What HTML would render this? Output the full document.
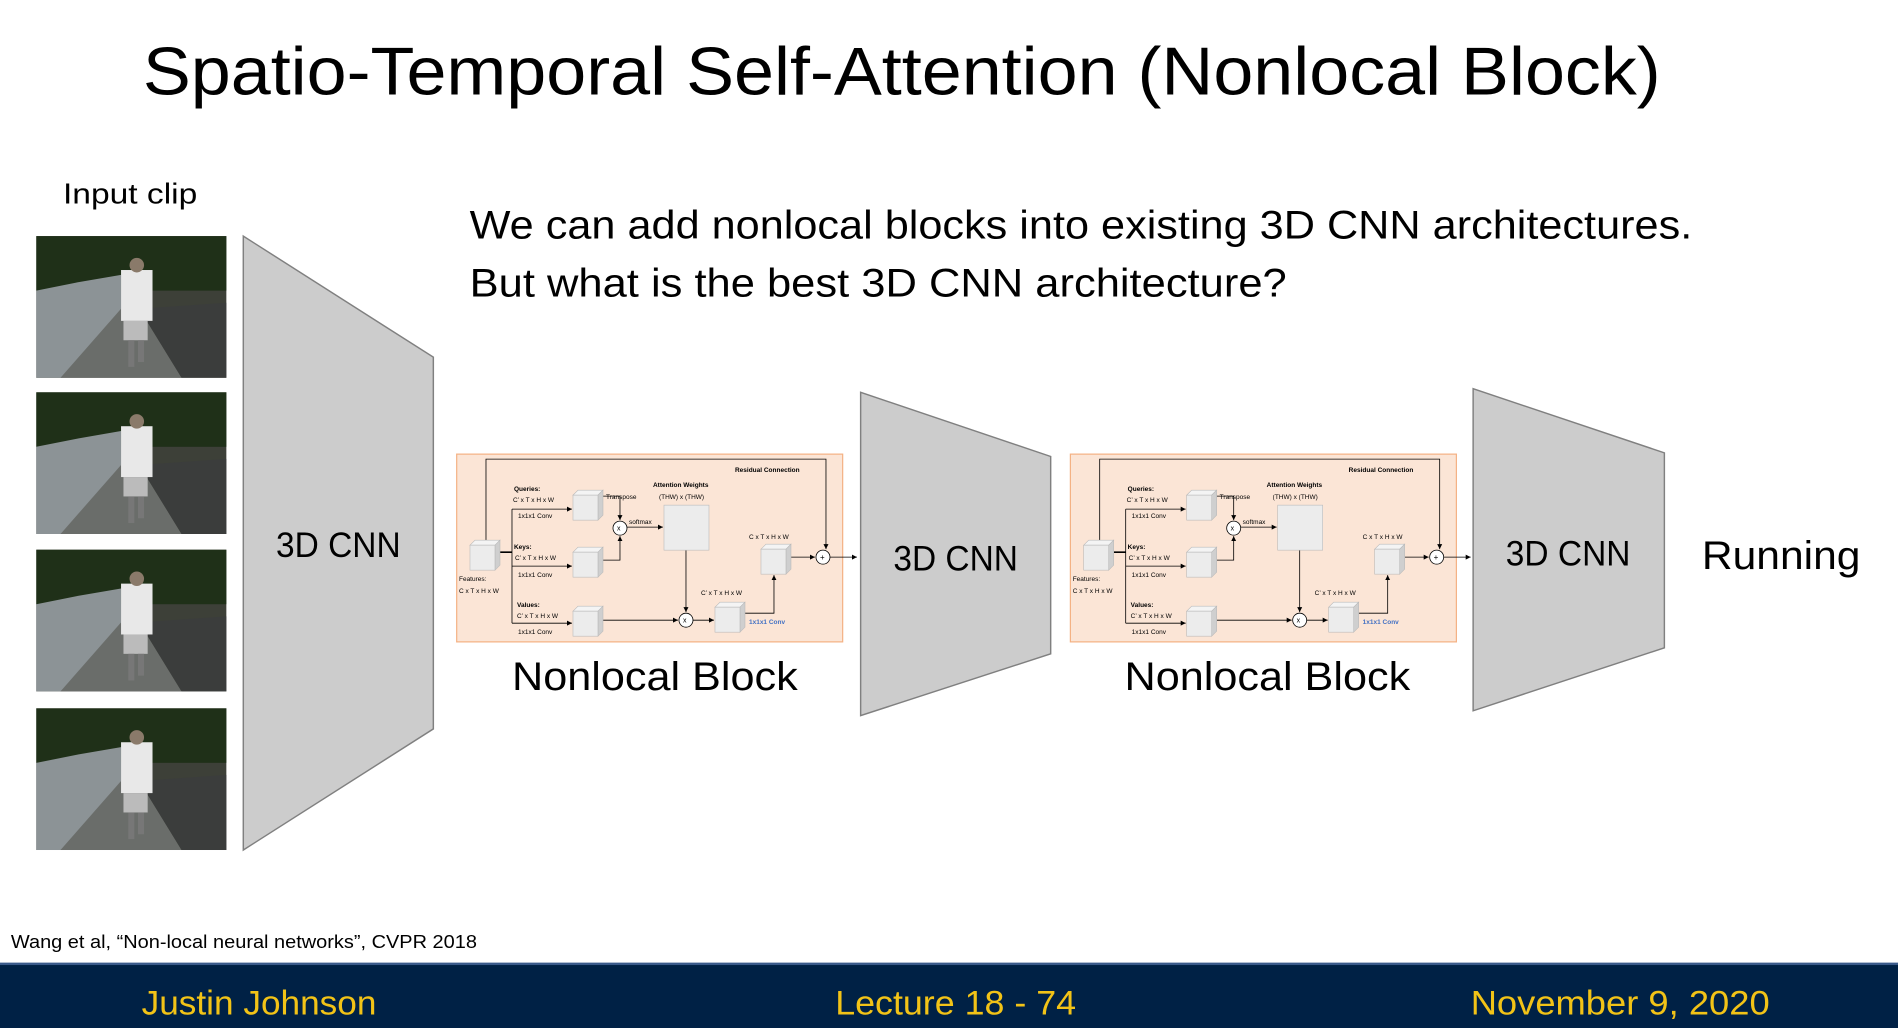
<!DOCTYPE html>
<html><head><meta charset="utf-8"><style>
html,body{margin:0;padding:0;background:#fff;}
svg{display:block;}
text{font-family:"Liberation Sans",sans-serif;}
</style></head><body>
<svg width="1898" height="1028" viewBox="0 0 1568 849" preserveAspectRatio="none" xmlns="http://www.w3.org/2000/svg">
<defs>
<marker id="ah" markerWidth="6" markerHeight="6" refX="5" refY="3" orient="auto" markerUnits="userSpaceOnUse"><path d="M0,0.5 L5,3 L0,5.5 z" fill="#000"/></marker>
<g id="cube">
<path d="M0,5 L5,0 L30,0 L25,5 z" fill="#f4f4f4" stroke="#bbb" stroke-width="0.6"/>
<path d="M25,5 L30,0 L30,25 L25,30 z" fill="#cfcfcf" stroke="#bbb" stroke-width="0.6"/>
<rect x="0" y="5" width="25" height="25" fill="#ececec" stroke="#bbb" stroke-width="0.6"/>
</g>
<g id="frame">
<rect x="0" y="0" width="157" height="117" fill="#3d4038"/>
<rect x="0" y="0" width="157" height="45" fill="#1f3018"/>
<path d="M0,45 L35,38 L70,32 L70,80 L20,117 L0,117 z" fill="#8c9396"/>
<path d="M20,117 L70,60 L85,60 L120,117 z" fill="#6a6d6a"/>
<path d="M85,60 L157,55 L157,117 L120,117 z" fill="#3b3d3c"/>
<rect x="70" y="28" width="26" height="42" fill="#e8e8e8"/>
<rect x="72" y="70" width="20" height="16" fill="#bbb"/>
<rect x="76" y="86" width="5" height="22" fill="#777"/>
<rect x="84" y="86" width="5" height="18" fill="#777"/>
<circle cx="83" cy="24" r="6" fill="#8a7a6a"/>
</g>
<g id="nl">
<rect x="6.7" y="4" width="386" height="187.7" fill="#fbe5d6" stroke="#f4b183" stroke-width="1.2"/>
<g fill="none" stroke="#000" stroke-width="0.8">
<polyline points="36,92 36,9 376,9 376,99" marker-end="url(#ah)"/>
<line x1="45" y1="102" x2="62" y2="102" stroke-width="1.6"/>
<line x1="62" y1="59" x2="62" y2="173"/>
<line x1="62" y1="59" x2="122" y2="59" marker-end="url(#ah)"/>
<line x1="62" y1="116" x2="122" y2="116" marker-end="url(#ah)"/>
<line x1="62" y1="173" x2="122" y2="173" marker-end="url(#ah)"/>
<polyline points="153,46 170,46 170,70" marker-end="url(#ah)"/>
<polyline points="153,110 170,110 170,86" marker-end="url(#ah)"/>
<line x1="177" y1="77" x2="213" y2="77" marker-end="url(#ah)"/>
<line x1="236" y1="100" x2="236" y2="162" marker-end="url(#ah)"/>
<line x1="152" y1="170" x2="228" y2="170" marker-end="url(#ah)"/>
<line x1="243" y1="170" x2="264" y2="170" marker-end="url(#ah)"/>
<polyline points="293,163 324,163 324,125" marker-end="url(#ah)"/>
<line x1="340" y1="107" x2="365" y2="107" marker-end="url(#ah)"/>
<line x1="380" y1="107" x2="407" y2="107" marker-end="url(#ah)"/>
</g>
<use href="#cube" x="20" y="90"/>
<use href="#cube" x="123" y="40"/>
<use href="#cube" x="123" y="97"/>
<use href="#cube" x="123" y="156"/>
<use href="#cube" x="265" y="152"/>
<use href="#cube" x="311" y="94"/>
<rect x="214" y="55" width="45" height="45" fill="#ececec" stroke="#bbb" stroke-width="0.6"/>
<g fill="#fff" stroke="#000" stroke-width="0.8">
<circle cx="170" cy="78" r="7"/><circle cx="236" cy="170" r="7"/><circle cx="373" cy="107" r="7"/>
</g>
<g font-size="6.5" fill="#000">
<text x="167" y="80.5" font-size="7">x</text><text x="233" y="172.5" font-size="7">x</text><text x="370" y="110" font-size="8">+</text>
<text x="285" y="22" font-weight="bold">Residual Connection</text>
<text x="64" y="41" font-weight="bold">Queries:</text>
<text x="63" y="52">C’ x T x H x W</text>
<text x="68" y="68">1x1x1 Conv</text>
<text x="156" y="49">Transpose</text>
<text x="179" y="74">softmax</text>
<text x="203" y="37" font-weight="bold">Attention Weights</text>
<text x="209" y="49">(THW) x (THW)</text>
<text x="64" y="99" font-weight="bold">Keys:</text>
<text x="65" y="110">C’ x T x H x W</text>
<text x="68" y="127">1x1x1 Conv</text>
<text x="9" y="131">Features:</text>
<text x="9" y="143">C x T x H x W</text>
<text x="67" y="157" font-weight="bold">Values:</text>
<text x="67" y="168">C’ x T x H x W</text>
<text x="68" y="184">1x1x1 Conv</text>
<text x="251" y="145">C’ x T x H x W</text>
<text x="299" y="89">C x T x H x W</text>
<text x="299" y="174" font-weight="bold" fill="#4472c4">1x1x1 Conv</text>
</g>
</g>
</defs>

<text x="118" y="78" font-size="56" textLength="1254" lengthAdjust="spacingAndGlyphs">Spatio-Temporal Self-Attention (Nonlocal Block)</text>
<text x="52" y="168" font-size="24" textLength="111" lengthAdjust="spacingAndGlyphs">Input clip</text>
<text x="388" y="197" font-size="33" textLength="1010" lengthAdjust="spacingAndGlyphs">We can add nonlocal blocks into existing 3D CNN architectures.</text>
<text x="388" y="245" font-size="33" textLength="675" lengthAdjust="spacingAndGlyphs">But what is the best 3D CNN architecture?</text>

<use href="#frame" x="30" y="195"/>
<use href="#frame" x="30" y="324"/>
<use href="#frame" x="30" y="454"/>
<use href="#frame" x="30" y="585"/>

<polygon points="201,195 358,295 358,602 201,702" fill="#cccccc" stroke="#808080" stroke-width="1.2"/>
<polygon points="711,324 868,377 868,540 711,591" fill="#cccccc" stroke="#808080" stroke-width="1.2"/>
<polygon points="1217,321 1375,374 1375,535 1217,587" fill="#cccccc" stroke="#808080" stroke-width="1.2"/>
<text x="228" y="460" font-size="29" textLength="103" lengthAdjust="spacingAndGlyphs">3D CNN</text>
<text x="738" y="471" font-size="29" textLength="103" lengthAdjust="spacingAndGlyphs">3D CNN</text>
<text x="1244" y="467" font-size="29" textLength="103" lengthAdjust="spacingAndGlyphs">3D CNN</text>
<text x="1406" y="470" font-size="33" textLength="131" lengthAdjust="spacingAndGlyphs">Running</text>

<g transform="translate(371.75,371.75) scale(0.8261)"><use href="#nl"/></g>
<g transform="translate(878.75,371.75) scale(0.8261)"><use href="#nl"/></g>
<text x="423" y="570" font-size="33" textLength="236" lengthAdjust="spacingAndGlyphs">Nonlocal Block</text>
<text x="929" y="570" font-size="33" textLength="236" lengthAdjust="spacingAndGlyphs">Nonlocal Block</text>

<text x="9" y="783" font-size="15" textLength="385" lengthAdjust="spacingAndGlyphs">Wang et al, “Non-local neural networks”, CVPR 2018</text>

<rect x="0" y="796" width="1568" height="53" fill="#002145"/>
<rect x="0" y="795" width="1568" height="2" fill="#3a5a8a"/>
<g fill="#f2c317" font-size="28">
<text x="117" y="838" textLength="194" lengthAdjust="spacingAndGlyphs">Justin Johnson</text>
<text x="690" y="838" textLength="199" lengthAdjust="spacingAndGlyphs">Lecture 18 - 74</text>
<text x="1215" y="838" textLength="247" lengthAdjust="spacingAndGlyphs">November 9, 2020</text>
</g>
</svg>
</body></html>
